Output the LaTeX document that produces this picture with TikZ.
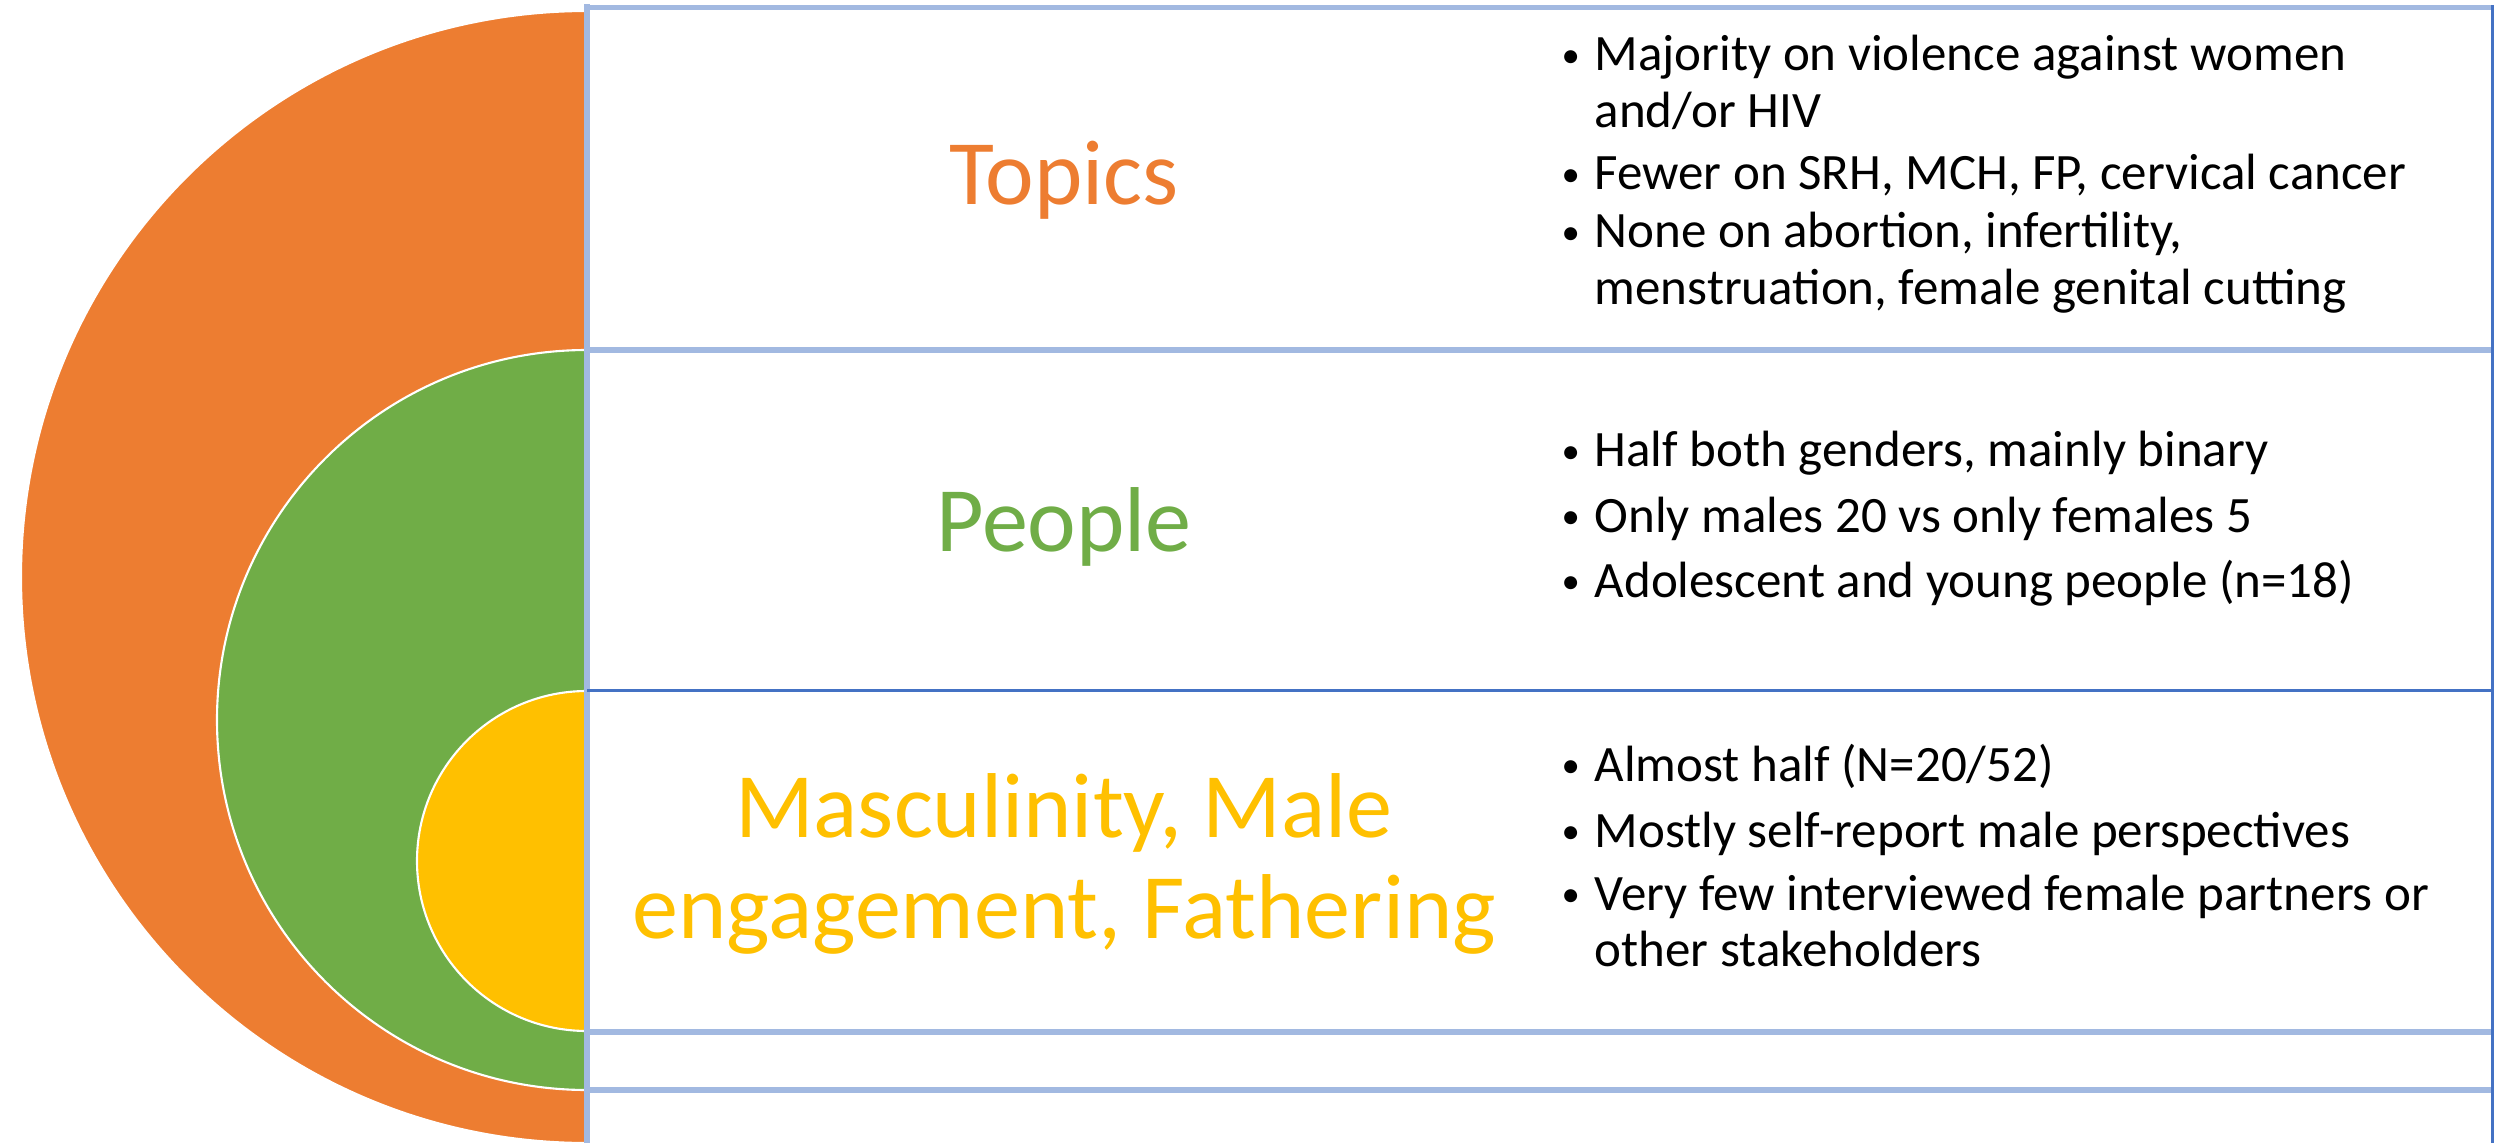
\documentclass[tikz,border=0pt]{standalone}
\usepackage{fontspec}
\setmainfont{Carlito}
\definecolor{orangeC}{HTML}{ED7D31}
\definecolor{greenC}{HTML}{70AD47}
\definecolor{goldC}{HTML}{FFC000}
\definecolor{lightB}{HTML}{A2B9E1}
\definecolor{darkB}{HTML}{4472C4}
\newcommand{\bul}{\makebox[0.33cm][l]{\raisebox{0.07em}{\scalebox{0.72}{•}}}}
\tikzset{
  bodytext/.style={anchor=base west, inner sep=0pt, font=\fontsize{14.5pt}{16.5pt}\selectfont},
  titletext/.style={anchor=base, inner sep=0pt, font=\fontsize{26.2pt}{30pt}\selectfont},
  lightline/.style={draw=lightB, line width=1.7pt},
  darkline/.style={draw=darkB, line width=1.05pt},
  ring/.style={draw=white, line width=0.6pt},
}
\begin{document}
\begin{tikzpicture}[x=0.01cm, y=-0.01cm]
\useasboundingbox (0,0) rectangle (2503,1143);
% nested half discs
\begin{scope}
  \clip (0,0) rectangle (587,1143);
  \fill[orangeC, ring] (587,577) circle[radius=566];
  \fill[greenC, ring] (587,720) circle[radius=370];
  \fill[goldC, ring] (587,861) circle[radius=170];
\end{scope}
% table lines
\draw[lightline] (587,7.5) -- (2492,7.5);
\draw[lightline] (587,350) -- (2492,350);
\draw[lightline] (587,1032) -- (2492,1032);
\draw[lightline] (587,1090) -- (2492,1090);
\draw[lightline] (587,4) -- (587,1143);
\draw[darkline] (587,690.5) -- (2492,690.5);
\draw[darkline] (2492.5,5) -- (2492.5,1143);
% titles
\node[titletext, text=orangeC] (topics) at (1064,205) {Topics};
\node[titletext, text=greenC] (people) at (1064,551) {People};
\node[titletext, text=goldC] (masc1) at (1064,837) {Masculinity, Male};
\node[titletext, text=goldC] (masc2) at (1064,938) {engagement, Fathering};
% box 1 bullets
\node[bodytext] (a1) at (1561,71) {\bul Majority on violence against women};
\node[bodytext] (a2) at (1594,128) {and/or HIV};
\node[bodytext] (a3) at (1561,190) {\bul Fewer on SRH, MCH, FP, cervical cancer};
\node[bodytext] (a4) at (1561,248) {\bul None on abortion, infertility,};
\node[bodytext] (a5) at (1594,305) {menstruation, female genital cutting};
% box 2 bullets
\node[bodytext] (b1) at (1561,467) {\bul Half both genders, mainly binary};
\node[bodytext] (b2) at (1561,532) {\bul Only males 20 vs only females 5};
\node[bodytext] (b3) at (1561,597) {\bul Adolescent and young people (n=18)};
% box 3 bullets
\node[bodytext] (c1) at (1561,781) {\bul Almost half (N=20/52)};
\node[bodytext] (c2) at (1561,847) {\bul Mostly self-report male perspectives};
\node[bodytext] (c3) at (1561,910) {\bul Very few interviewed female partners or};
\node[bodytext] (c4) at (1594,966) {other stakeholders};
\end{tikzpicture}
\end{document}
